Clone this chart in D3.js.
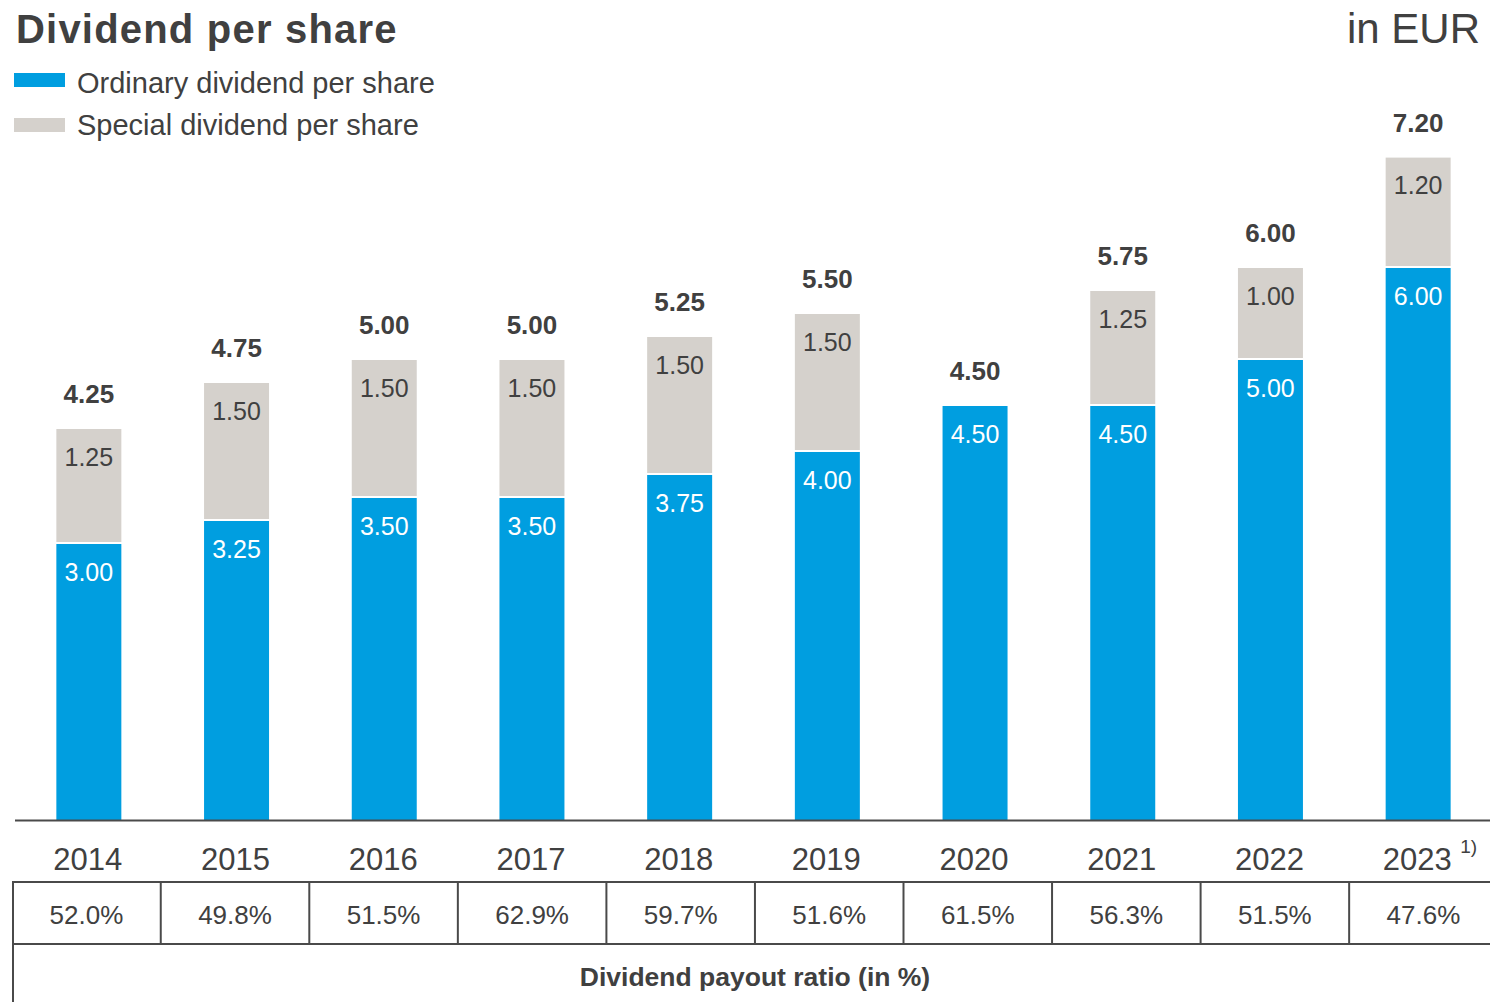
<!DOCTYPE html>
<html>
<head>
<meta charset="utf-8">
<script src="https://cdn.jsdelivr.net/npm/d3@7"></script>
<style>
  html, body { margin: 0; padding: 0; background: #fff; }
  svg { display: block; font-family: "Liberation Sans", Arial, sans-serif; }
</style>
</head>
<body>
<svg id="chart" width="1490" height="1002"></svg>
<script>
const years = ["2014","2015","2016","2017","2018","2019","2020","2021","2022","2023"];
const ordinary = [3.00, 3.25, 3.50, 3.50, 3.75, 4.00, 4.50, 4.50, 5.00, 6.00];
const special = [1.25, 1.50, 1.50, 1.50, 1.50, 1.50, 0, 1.25, 1.00, 1.20];
const totals = [4.25, 4.75, 5.00, 5.00, 5.25, 5.50, 4.50, 5.75, 6.00, 7.20];
const payoutRatio = ["52.0%","49.8%","51.5%","62.9%","59.7%","51.6%","61.5%","56.3%","51.5%","47.6%"];
const seriesNames = ["Ordinary dividend per share", "Special dividend per share"];
const footnoteYear = "2023";
const footnote = "1)";

const BLUE = "#009ee0";
const GRAY = "#d5d1cc";
const TEXT = "#404040";
const LINE = "#4a4a4a";

const svg = d3.select("#chart");

const x = d3.scaleBand().domain(years).range([15, 1492]).paddingInner(0.56).paddingOuter(0.28);
const y = d3.scaleLinear().domain([0, 7.2]).range([820, 157.6]);
const xt = d3.scaleBand().domain(years).range([12.2, 12.2 + 148.55 * years.length]);

// Title
svg.append("text").attr("x", 16).attr("y", 43).attr("font-size", 40).attr("font-weight", "bold")
  .attr("letter-spacing", 1.2).attr("fill", TEXT).text("Dividend per share");
svg.append("text").attr("x", 1480).attr("y", 43).attr("font-size", 42).attr("text-anchor", "end")
  .attr("fill", TEXT).text("in EUR");

// Legend
const legend = svg.append("g");
[BLUE, GRAY].forEach((c, i) => {
  legend.append("rect").attr("x", 14).attr("y", 73 + i * 45).attr("width", 51).attr("height", 14).attr("fill", c);
  legend.append("text").attr("x", 77).attr("y", 93 + i * 42).attr("font-size", 29).attr("fill", TEXT).text(seriesNames[i]);
});

// Bars
const data = years.map((yr, i) => ({ yr, o: ordinary[i], s: special[i], t: totals[i] }));
const g = svg.append("g");
g.selectAll("rect.ord").data(data).join("rect").attr("class", "ord")
  .attr("x", d => x(d.yr)).attr("width", x.bandwidth())
  .attr("y", d => y(d.o)).attr("height", d => y(0) - y(d.o)).attr("fill", BLUE);
g.selectAll("rect.spec").data(data.filter(d => d.s > 0)).join("rect").attr("class", "spec")
  .attr("x", d => x(d.yr)).attr("width", x.bandwidth())
  .attr("y", d => y(d.t)).attr("height", d => y(d.o) - y(d.t) - 2).attr("fill", GRAY);

// Segment labels
g.selectAll("text.ordl").data(data).join("text").attr("class", "ordl")
  .attr("x", d => x(d.yr) + x.bandwidth() / 2).attr("y", d => y(d.o) + 36.5)
  .attr("text-anchor", "middle").attr("font-size", 25).attr("fill", "#fff").text(d => d.o.toFixed(2));
g.selectAll("text.specl").data(data.filter(d => d.s > 0)).join("text").attr("class", "specl")
  .attr("x", d => x(d.yr) + x.bandwidth() / 2).attr("y", d => y(d.t) + 36.5)
  .attr("text-anchor", "middle").attr("font-size", 25).attr("fill", TEXT).text(d => d.s.toFixed(2));
g.selectAll("text.tot").data(data).join("text").attr("class", "tot")
  .attr("x", d => x(d.yr) + x.bandwidth() / 2).attr("y", d => y(d.t) - 26)
  .attr("text-anchor", "middle").attr("font-size", 26).attr("font-weight", "bold").attr("fill", TEXT).text(d => d.t.toFixed(2));

// Axis baseline
svg.append("line").attr("x1", 15).attr("x2", 1490).attr("y1", 820.5).attr("y2", 820.5)
  .attr("stroke", LINE).attr("stroke-width", 2);

// Year labels
svg.selectAll("text.yr").data(years).join("text").attr("class", "yr")
  .attr("x", d => x(d) + x.bandwidth() / 2 - 1).attr("y", 870)
  .attr("text-anchor", "middle").attr("font-size", 31).attr("fill", TEXT).text(d => d);
svg.append("text").attr("x", x(footnoteYear) + x.bandwidth() / 2 + 42).attr("y", 853)
  .attr("font-size", 19).attr("fill", TEXT).text(footnote);

// Table
const tbl = svg.append("g").attr("stroke", LINE).attr("stroke-width", 2);
tbl.append("line").attr("x1", 12).attr("x2", 1490).attr("y1", 882).attr("y2", 882);
tbl.append("line").attr("x1", 12).attr("x2", 1490).attr("y1", 944).attr("y2", 944);
tbl.append("line").attr("x1", 13).attr("x2", 13).attr("y1", 881).attr("y2", 1002);
tbl.selectAll("line.sep").data(years.slice(1)).join("line").attr("class", "sep")
  .attr("x1", d => xt(d)).attr("x2", d => xt(d)).attr("y1", 882).attr("y2", 944);

svg.selectAll("text.pr").data(years).join("text").attr("class", "pr")
  .attr("x", d => xt(d) + xt.bandwidth() / 2).attr("y", 924)
  .attr("text-anchor", "middle").attr("font-size", 26).attr("fill", TEXT).text((d, i) => payoutRatio[i]);

svg.append("text").attr("x", 755).attr("y", 986).attr("text-anchor", "middle")
  .attr("font-size", 26.5).attr("font-weight", "bold").attr("fill", TEXT).text("Dividend payout ratio (in %)");
</script>
</body>
</html>
